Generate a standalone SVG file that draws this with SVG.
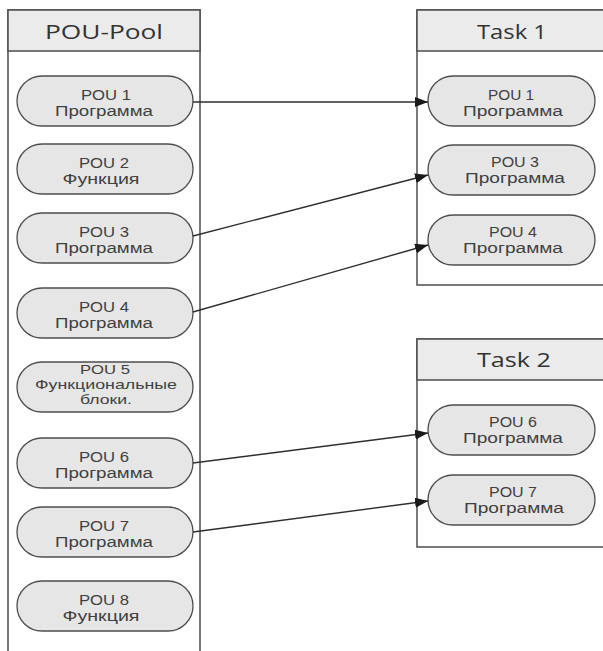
<svg xmlns="http://www.w3.org/2000/svg" width="603" height="651" viewBox="0 0 603 651">
<defs>
<style>
.box{fill:#ffffff;stroke:#4d4d4d;stroke-width:1.5}
.hdr{fill:#ebebeb;stroke:#4d4d4d;stroke-width:1.5}
.pill{fill:#e6e6e6;stroke:#4d4d4d;stroke-width:1.3}
.ht{font-family:"Open Sans","Noto Sans",sans-serif;font-size:20px;fill:#333;text-anchor:middle}
.pt{font-family:"Liberation Sans",Arial,sans-serif;font-size:14px;fill:#404040;text-anchor:middle}
.ps{font-size:13px}
.conn{stroke:#2e2e2e;stroke-width:1.4;fill:none;marker-end:url(#ah)}
</style>
<marker id="ah" markerUnits="userSpaceOnUse" markerWidth="14" markerHeight="10" refX="13" refY="5" orient="auto">
<path d="M0,0 L13,5 L0,10 z" fill="#1a1a1a"/>
</marker>
</defs>
<rect width="603" height="651" fill="#ffffff"/>

<g id="pool">
<rect class="box" x="8" y="10" width="192" height="660"/>
<rect class="hdr" x="8" y="10" width="192" height="41"/>
<text class="ht" x="104" y="39" textLength="118" lengthAdjust="spacingAndGlyphs">POU-Pool</text>
</g>
<g id="task1">
<rect class="box" x="417" y="10" width="200" height="275"/>
<rect class="hdr" x="417" y="10" width="200" height="41"/>
<text class="ht" x="512" y="39" textLength="70" lengthAdjust="spacingAndGlyphs">Task 1</text>
</g>
<g id="task2">
<rect class="box" x="417" y="339" width="200" height="208"/>
<rect class="hdr" x="417" y="339" width="200" height="41"/>
<text class="ht" x="514" y="367" textLength="74" lengthAdjust="spacingAndGlyphs">Task 2</text>
</g>

<g id="pool-pou1"><rect class="pill" x="17" y="76" width="176" height="50" rx="25"/>
<text class="pt" x="106" y="100" textLength="50" lengthAdjust="spacingAndGlyphs">POU 1</text>
<text class="pt" x="104" y="116" textLength="98" lengthAdjust="spacingAndGlyphs">Программа</text></g>
<g id="pool-pou2"><rect class="pill" x="17" y="144" width="176" height="50" rx="25"/>
<text class="pt" x="104" y="168" textLength="50" lengthAdjust="spacingAndGlyphs">POU 2</text>
<text class="pt" x="101" y="184" textLength="77" lengthAdjust="spacingAndGlyphs">Функция</text></g>
<g id="pool-pou3"><rect class="pill" x="17" y="213" width="176" height="50" rx="25"/>
<text class="pt" x="104" y="237" textLength="50" lengthAdjust="spacingAndGlyphs">POU 3</text>
<text class="pt" x="104" y="253" textLength="98" lengthAdjust="spacingAndGlyphs">Программа</text></g>
<g id="pool-pou4"><rect class="pill" x="17" y="288" width="176" height="50" rx="25"/>
<text class="pt" x="104" y="312" textLength="50" lengthAdjust="spacingAndGlyphs">POU 4</text>
<text class="pt" x="104" y="328" textLength="98" lengthAdjust="spacingAndGlyphs">Программа</text></g>
<g id="pool-pou5"><rect class="pill" x="17" y="362" width="176" height="50" rx="25"/>
<text class="pt ps" x="105" y="374" textLength="50" lengthAdjust="spacingAndGlyphs">POU 5</text>
<text class="pt ps" x="106" y="389" textLength="142" lengthAdjust="spacingAndGlyphs">Функциональные</text>
<text class="pt ps" x="106" y="404" textLength="52" lengthAdjust="spacingAndGlyphs">блоки.</text></g>
<g id="pool-pou6"><rect class="pill" x="17" y="438" width="176" height="50" rx="25"/>
<text class="pt" x="104" y="462" textLength="50" lengthAdjust="spacingAndGlyphs">POU 6</text>
<text class="pt" x="104" y="478" textLength="98" lengthAdjust="spacingAndGlyphs">Программа</text></g>
<g id="pool-pou7"><rect class="pill" x="17" y="507" width="176" height="50" rx="25"/>
<text class="pt" x="104" y="531" textLength="50" lengthAdjust="spacingAndGlyphs">POU 7</text>
<text class="pt" x="104" y="547" textLength="98" lengthAdjust="spacingAndGlyphs">Программа</text></g>
<g id="pool-pou8"><rect class="pill" x="17" y="581" width="176" height="50" rx="25"/>
<text class="pt" x="104" y="605" textLength="50" lengthAdjust="spacingAndGlyphs">POU 8</text>
<text class="pt" x="101" y="621" textLength="77" lengthAdjust="spacingAndGlyphs">Функция</text></g>

<g id="t1-pou1"><rect class="pill" x="428" y="76" width="167" height="50" rx="25"/>
<text class="pt" x="511" y="100" textLength="46" lengthAdjust="spacingAndGlyphs">POU 1</text>
<text class="pt" x="513" y="116" textLength="100" lengthAdjust="spacingAndGlyphs">Программа</text></g>
<g id="t1-pou3"><rect class="pill" x="428" y="145" width="167" height="50" rx="25"/>
<text class="pt" x="515" y="167" textLength="48" lengthAdjust="spacingAndGlyphs">POU 3</text>
<text class="pt" x="515" y="183" textLength="100" lengthAdjust="spacingAndGlyphs">Программа</text></g>
<g id="t1-pou4"><rect class="pill" x="428" y="215" width="167" height="50" rx="25"/>
<text class="pt" x="513" y="237" textLength="48" lengthAdjust="spacingAndGlyphs">POU 4</text>
<text class="pt" x="513" y="253" textLength="100" lengthAdjust="spacingAndGlyphs">Программа</text></g>
<g id="t2-pou6"><rect class="pill" x="428" y="405" width="167" height="50" rx="25"/>
<text class="pt" x="513" y="427" textLength="48" lengthAdjust="spacingAndGlyphs">POU 6</text>
<text class="pt" x="513" y="443" textLength="100" lengthAdjust="spacingAndGlyphs">Программа</text></g>
<g id="t2-pou7"><rect class="pill" x="428" y="475" width="167" height="50" rx="25"/>
<text class="pt" x="513" y="497" textLength="48" lengthAdjust="spacingAndGlyphs">POU 7</text>
<text class="pt" x="514" y="513" textLength="100" lengthAdjust="spacingAndGlyphs">Программа</text></g>

<g id="connectors">
<line class="conn" x1="193" y1="102" x2="428" y2="102"/>
<line class="conn" x1="193" y1="236" x2="428" y2="175"/>
<line class="conn" x1="193" y1="312" x2="428" y2="245"/>
<line class="conn" x1="193" y1="463" x2="428" y2="433"/>
<line class="conn" x1="193" y1="532" x2="428" y2="501"/>
</g>
</svg>
